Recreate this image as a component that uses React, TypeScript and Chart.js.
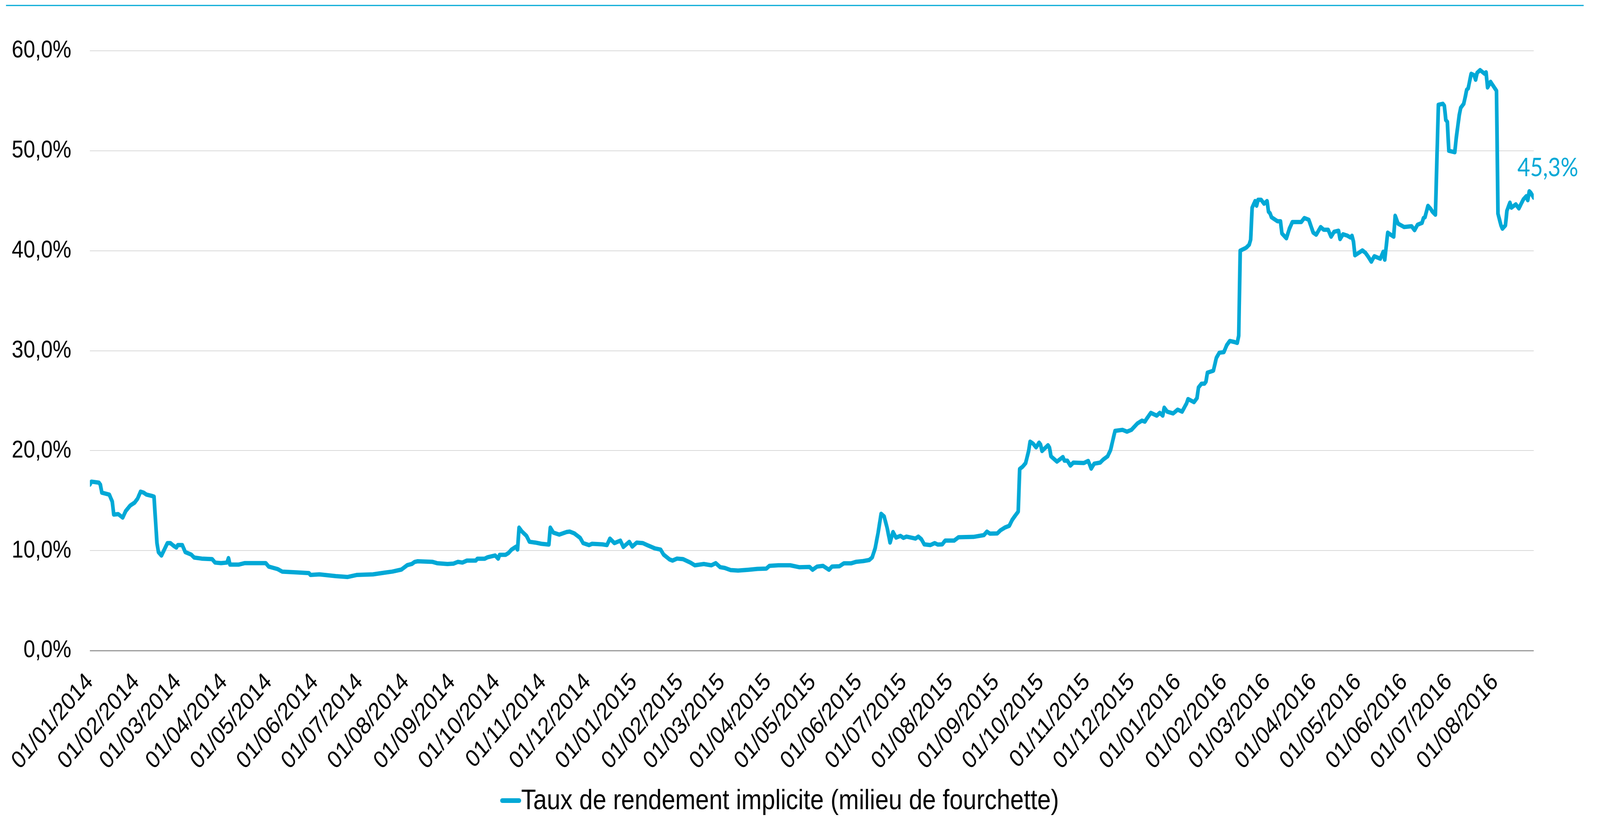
import React, { useEffect, useRef, useState } from "react";
import { Chart, registerables } from "chart.js";

Chart.register(...registerables);

const CYAN = "#00a8d6";
const FONT = '"Liberation Sans", Arial, sans-serif';
const REF_W = 4805;
const REF_H = 2091;

const seriesLabel = "Taux de rendement implicite (milieu de fourchette)";
const lastValueLabel = "45,3%";

const monthTickLabels = [
  "01/01/2014", "01/02/2014", "01/03/2014", "01/04/2014", "01/05/2014", "01/06/2014",
  "01/07/2014", "01/08/2014", "01/09/2014", "01/10/2014", "01/11/2014", "01/12/2014",
  "01/01/2015", "01/02/2015", "01/03/2015", "01/04/2015", "01/05/2015", "01/06/2015",
  "01/07/2015", "01/08/2015", "01/09/2015", "01/10/2015", "01/11/2015", "01/12/2015",
  "01/01/2016", "01/02/2016", "01/03/2016", "01/04/2016", "01/05/2016", "01/06/2016",
  "01/07/2016", "01/08/2016",
];

const yTickValues = [0, 10, 20, 30, 40, 50, 60];
const yTickLabels = ["0,0%", "10,0%", "20,0%", "30,0%", "40,0%", "50,0%", "60,0%"];

const dates = [
  "2014-01-01", "2014-01-02", "2014-01-07", "2014-01-08", "2014-01-09", "2014-01-14", "2014-01-16", "2014-01-17",
  "2014-01-20", "2014-01-23", "2014-01-25", "2014-01-28", "2014-01-31", "2014-02-02", "2014-02-04", "2014-02-06",
  "2014-02-08", "2014-02-12", "2014-02-13", "2014-02-15", "2014-02-16", "2014-02-18", "2014-02-22", "2014-02-24",
  "2014-02-26", "2014-02-28", "2014-03-01", "2014-03-04", "2014-03-06", "2014-03-10", "2014-03-12", "2014-03-17",
  "2014-03-24", "2014-03-26", "2014-03-30", "2014-04-03", "2014-04-04", "2014-04-05", "2014-04-11", "2014-04-15",
  "2014-04-29", "2014-05-01", "2014-05-07", "2014-05-10", "2014-05-20", "2014-05-28", "2014-05-29", "2014-06-04",
  "2014-06-15", "2014-06-23", "2014-06-29", "2014-07-10", "2014-07-18", "2014-07-23", "2014-07-29", "2014-08-02",
  "2014-08-05", "2014-08-07", "2014-08-09", "2014-08-19", "2014-08-22", "2014-08-29", "2014-09-02", "2014-09-05",
  "2014-09-08", "2014-09-11", "2014-09-17", "2014-09-18", "2014-09-23", "2014-09-25", "2014-09-30", "2014-10-02",
  "2014-10-03", "2014-10-07", "2014-10-09", "2014-10-11", "2014-10-14", "2014-10-15", "2014-10-16", "2014-10-18",
  "2014-10-21", "2014-10-23", "2014-10-27", "2014-10-31", "2014-11-05", "2014-11-06", "2014-11-08", "2014-11-12",
  "2014-11-17", "2014-11-19", "2014-11-22", "2014-11-26", "2014-11-28", "2014-12-02", "2014-12-04", "2014-12-11",
  "2014-12-14", "2014-12-16", "2014-12-19", "2014-12-23", "2014-12-25", "2014-12-29", "2014-12-31",
  "2015-01-03", "2015-01-07", "2015-01-10", "2015-01-15", "2015-01-19", "2015-01-21", "2015-01-25", "2015-01-27",
  "2015-01-30", "2015-02-03", "2015-02-08", "2015-02-11", "2015-02-17", "2015-02-22", "2015-02-25", "2015-02-28",
  "2015-03-03", "2015-03-07", "2015-03-12", "2015-03-19", "2015-03-25", "2015-03-31", "2015-04-02", "2015-04-08",
  "2015-04-16", "2015-04-22", "2015-04-29", "2015-05-01", "2015-05-04", "2015-05-08", "2015-05-12", "2015-05-14",
  "2015-05-19", "2015-05-22", "2015-05-27", "2015-05-30", "2015-06-04", "2015-06-08", "2015-06-10", "2015-06-12",
  "2015-06-14", "2015-06-16", "2015-06-18", "2015-06-20", "2015-06-22", "2015-06-24", "2015-06-26", "2015-06-29",
  "2015-07-01", "2015-07-03", "2015-07-07", "2015-07-09", "2015-07-11", "2015-07-13", "2015-07-15", "2015-07-19",
  "2015-07-22", "2015-07-24", "2015-07-27", "2015-07-29", "2015-08-04", "2015-08-07", "2015-08-17", "2015-08-24",
  "2015-08-26", "2015-08-28", "2015-09-02", "2015-09-04", "2015-09-07", "2015-09-10", "2015-09-12", "2015-09-14",
  "2015-09-16", "2015-09-17", "2015-09-19", "2015-09-21", "2015-09-23", "2015-09-24", "2015-09-26", "2015-09-28",
  "2015-09-30", "2015-10-01", "2015-10-02", "2015-10-06", "2015-10-07", "2015-10-08", "2015-10-12", "2015-10-16",
  "2015-10-17", "2015-10-19", "2015-10-21", "2015-10-23", "2015-10-30", "2015-11-02", "2015-11-04", "2015-11-06",
  "2015-11-10", "2015-11-12", "2015-11-15", "2015-11-17", "2015-11-19", "2015-11-20", "2015-11-25", "2015-11-28",
  "2015-12-01", "2015-12-05", "2015-12-08", "2015-12-10", "2015-12-11", "2015-12-14", "2015-12-18", "2015-12-20",
  "2015-12-22", "2015-12-23", "2015-12-25", "2015-12-29",
  "2016-01-01", "2016-01-04", "2016-01-07", "2016-01-08", "2016-01-12", "2016-01-14", "2016-01-15", "2016-01-17",
  "2016-01-19", "2016-01-20", "2016-01-21", "2016-01-25", "2016-01-27", "2016-01-29", "2016-02-01", "2016-02-03",
  "2016-02-05", "2016-02-08", "2016-02-10", "2016-02-11", "2016-02-12", "2016-02-16", "2016-02-18", "2016-02-19",
  "2016-02-20", "2016-02-22", "2016-02-23", "2016-02-24", "2016-02-26", "2016-02-28", "2016-03-01", "2016-03-02",
  "2016-03-03", "2016-03-04", "2016-03-08", "2016-03-10", "2016-03-11", "2016-03-14", "2016-03-16", "2016-03-18",
  "2016-03-24", "2016-03-26", "2016-03-29", "2016-04-01", "2016-04-03", "2016-04-06", "2016-04-08", "2016-04-11",
  "2016-04-13", "2016-04-15", "2016-04-18", "2016-04-19", "2016-04-21", "2016-04-24", "2016-04-26", "2016-04-27",
  "2016-04-28", "2016-04-29", "2016-05-04", "2016-05-06", "2016-05-08", "2016-05-10", "2016-05-12", "2016-05-16",
  "2016-05-18", "2016-05-19", "2016-05-21", "2016-05-23", "2016-05-25", "2016-05-26", "2016-05-28", "2016-06-01",
  "2016-06-06", "2016-06-08", "2016-06-10", "2016-06-13", "2016-06-14", "2016-06-15", "2016-06-17", "2016-06-19",
  "2016-06-20", "2016-06-22", "2016-06-24", "2016-06-27", "2016-06-28", "2016-06-29", "2016-06-30", "2016-07-01",
  "2016-07-05", "2016-07-06", "2016-07-08", "2016-07-09", "2016-07-11", "2016-07-12", "2016-07-13", "2016-07-14",
  "2016-07-16", "2016-07-18", "2016-07-19", "2016-07-20", "2016-07-22", "2016-07-25", "2016-07-26", "2016-07-27",
  "2016-07-29", "2016-08-02", "2016-08-03", "2016-08-05", "2016-08-06", "2016-08-08", "2016-08-09", "2016-08-11",
  "2016-08-12", "2016-08-15", "2016-08-17", "2016-08-20", "2016-08-22", "2016-08-23", "2016-08-24", "2016-08-25",
  "2016-08-27",
];

const values = [
  16.6, 16.9, 16.8, 16.6, 15.8, 15.6, 14.9, 13.6,
  13.65, 13.3, 13.95, 14.5, 14.8, 15.2, 15.9, 15.8,
  15.6, 15.45, 15.4, 10.75, 9.85, 9.5, 10.75, 10.75,
  10.5, 10.3, 10.55, 10.55, 9.85, 9.6, 9.3, 9.2,
  9.15, 8.8, 8.75, 8.8, 9.25, 8.6, 8.6, 8.75,
  8.75, 8.4, 8.15, 7.9, 7.82, 7.75, 7.56, 7.62,
  7.45, 7.36, 7.56, 7.62, 7.8, 7.9, 8.1, 8.55,
  8.66, 8.87, 8.93, 8.87, 8.74, 8.66, 8.7, 8.87,
  8.8, 9.0, 9.0, 9.19, 9.19, 9.34, 9.51, 9.19,
  9.58, 9.58, 9.77, 10.1, 10.4, 10.1, 12.3, 11.9,
  11.47, 10.88, 10.8, 10.68, 10.6, 12.3, 11.8, 11.6,
  11.86, 11.9, 11.73, 11.27, 10.75, 10.55, 10.68, 10.62,
  10.55, 11.2, 10.75, 11.0, 10.36, 10.88, 10.4,
  10.8, 10.75, 10.55, 10.23, 10.1, 9.6, 9.12, 9.0,
  9.2, 9.15, 8.8, 8.53, 8.66, 8.53, 8.74, 8.34,
  8.27, 8.05, 8.0, 8.08, 8.17, 8.2, 8.47, 8.53,
  8.53, 8.34, 8.36, 8.08, 8.4, 8.47, 8.08, 8.4,
  8.43, 8.73, 8.73, 8.87, 8.95, 9.06, 9.32, 10.23,
  11.8, 13.68, 13.42, 12.3, 10.8, 11.86, 11.3, 11.47,
  11.27, 11.4, 11.27, 11.2, 11.4, 11.14, 10.62, 10.55,
  10.75, 10.6, 10.62, 11.0, 11.0, 11.34, 11.37, 11.55,
  11.9, 11.7, 11.72, 12.02, 12.3, 12.48, 13.08, 13.5,
  13.9, 18.16, 18.4, 18.76, 19.96, 20.9, 20.7, 20.33,
  20.8, 20.6, 19.96, 20.54, 20.3, 19.43, 18.9, 19.36,
  19.0, 19.0, 18.5, 18.8, 18.76, 18.97, 18.2, 18.7,
  18.8, 19.1, 19.43, 20.07, 21.35, 21.98, 22.08, 21.9,
  22.08, 22.72, 23.0, 22.9, 23.14, 23.78, 23.5, 23.78,
  23.5, 24.3, 23.9, 23.72,
  24.1, 23.9, 24.73, 25.16, 24.85, 25.26, 26.32, 26.7,
  26.7, 26.9, 27.8, 28.0, 29.28, 29.8, 29.85, 30.56,
  30.97, 30.87, 30.77, 31.5, 40.0, 40.3, 40.6, 41.1,
  44.3, 44.97, 44.5, 45.1, 45.1, 44.7, 44.97, 43.9,
  43.75, 43.35, 42.95, 42.95, 41.73, 41.24, 42.2, 42.87,
  42.87, 43.27, 43.1, 41.81, 41.6, 42.37, 42.1, 42.1,
  41.4, 41.9, 42.0, 41.16, 41.65, 41.5, 41.32, 41.5,
  40.92, 39.54, 40.03, 39.8, 39.38, 38.9, 39.45, 39.2,
  39.9, 39.1, 41.81, 41.6, 41.4, 43.5, 42.7, 42.37,
  42.45, 42.05, 42.6, 42.78, 43.27, 43.35, 44.49, 44.15,
  43.9, 43.6, 54.6, 54.7, 54.5, 53.07, 52.9, 50.0,
  49.85, 51.3, 53.56, 54.3, 54.7, 55.36, 56.1, 56.24,
  57.7, 57.55, 57.1, 57.8, 58.07, 57.7, 57.85, 56.33,
  56.9, 56.0, 43.7, 42.54, 42.2, 42.54, 44.0, 44.81,
  44.3, 44.64, 44.23, 45.13, 45.46, 45.05, 45.95, 45.8,
  45.3,
];

const ORIGIN = Date.UTC(2014, 0, 1);
function isoDay(s: string): number {
  const [y, m, d] = s.split("-").map(Number);
  return Math.round((Date.UTC(y, m - 1, d) - ORIGIN) / 86400000);
}
function frDay(s: string): number {
  const [d, m, y] = s.split("/").map(Number);
  return Math.round((Date.UTC(y, m - 1, d) - ORIGIN) / 86400000);
}

function viewport() {
  const w = document.documentElement.clientWidth || window.innerWidth || REF_W;
  const h = document.documentElement.clientHeight || window.innerHeight || REF_H;
  return { w, h };
}

export default function App() {
  const ref = useRef<HTMLCanvasElement | null>(null);
  const [size] = useState(viewport);

  useEffect(() => {
    document.body.style.margin = "0";
    document.body.style.overflow = "hidden";
    const canvas = ref.current;
    if (!canvas) return;

    const points = dates.map((d, i) => ({ x: isoDay(d), y: values[i] }));
    const tickDays = monthTickLabels.map(frDay);
    const lastDay = points[points.length - 1].x;

    const decor = {
      id: "decor",
      afterDraw(chart: any) {
        const ctx = chart.ctx as CanvasRenderingContext2D;
        ctx.save();
        // top rule
        ctx.strokeStyle = CYAN;
        ctx.lineWidth = 3;
        ctx.beginPath();
        ctx.moveTo(18, 14);
        ctx.lineTo(4756, 14);
        ctx.stroke();
        // last value label
        const meta = chart.getDatasetMeta(0);
        const pt = meta.data[meta.data.length - 1];
        ctx.fillStyle = CYAN;
        ctx.font = '400 66px Lato, "Liberation Sans", sans-serif';
        ctx.textAlign = "left";
        ctx.textBaseline = "alphabetic";
        ctx.fillText(lastValueLabel, pt.x - 49, pt.y - 55);
        // legend
        ctx.font = `73px ${FONT}`;
        const tw = ctx.measureText(seriesLabel).width;
        const mw = 63;
        const cx = 2341;
        const x0 = cx - (mw + tw) / 2;
        ctx.strokeStyle = CYAN;
        ctx.lineWidth = 12;
        ctx.lineCap = "round";
        ctx.beginPath();
        ctx.moveTo(x0 + 6, 2049);
        ctx.lineTo(x0 + mw - 6, 2049);
        ctx.stroke();
        ctx.fillStyle = "#000";
        ctx.fillText(seriesLabel, x0 + mw, 2071);
        ctx.restore();
      },
    };

    const chart = new Chart(canvas, {
      type: "line",
      data: {
        datasets: [
          {
            label: seriesLabel,
            data: points,
            borderColor: CYAN,
            backgroundColor: CYAN,
            borderWidth: 11,
            pointRadius: 0,
            tension: 0,
            borderJoinStyle: "round",
            borderCapStyle: "round",
            fill: false,
          },
        ],
      },
      options: {
        animation: false,
        responsive: false,
        devicePixelRatio: 1,
        layout: { padding: { top: 130, right: 199, left: 0, bottom: 0 } },
        plugins: {
          legend: { display: false },
          tooltip: { enabled: false },
        },
        scales: {
          x: {
            type: "linear",
            min: 0,
            max: lastDay,
            grid: { display: false, drawTicks: false },
            border: { display: false },
            afterBuildTicks: (s: any) => {
              s.ticks = tickDays.map((v) => ({ value: v }));
            },
            afterFit: (s: any) => {
              s.height = 426;
            },
            ticks: {
              autoSkip: false,
              minRotation: 45,
              maxRotation: 45,
              padding: 44,
              color: "#000",
              font: { family: FONT, size: 63 },
              callback: (_v: any, i: number) => monthTickLabels[i],
            },
          },
          y: {
            type: "linear",
            min: 0,
            max: 60,
            afterBuildTicks: (s: any) => {
              s.ticks = yTickValues.map((v) => ({ value: v }));
            },
            afterFit: (s: any) => {
              s.width = 270;
            },
            grid: {
              drawTicks: false,
              color: (c: any) => (c.tick && c.tick.value === 0 ? "#9a9a9a" : "#d9d9d9"),
              lineWidth: (c: any) => (c.tick && c.tick.value === 0 ? 3 : 2),
            },
            border: { display: false },
            ticks: {
              padding: 56,
              color: "#000",
              font: { family: FONT, size: 63 },
              callback: (_v: any, i: number) => yTickLabels[i],
            },
          },
        },
      },
      plugins: [decor],
    });
    return () => chart.destroy();
  }, [size]);

  return (
    <div style={{ position: "fixed", left: 0, top: 0, width: size.w, height: size.h, background: "#fff", overflow: "hidden" }}>
      <canvas
        ref={ref}
        width={REF_W}
        height={REF_H}
        style={{ display: "block", width: size.w, height: size.h }}
      />
    </div>
  );
}
